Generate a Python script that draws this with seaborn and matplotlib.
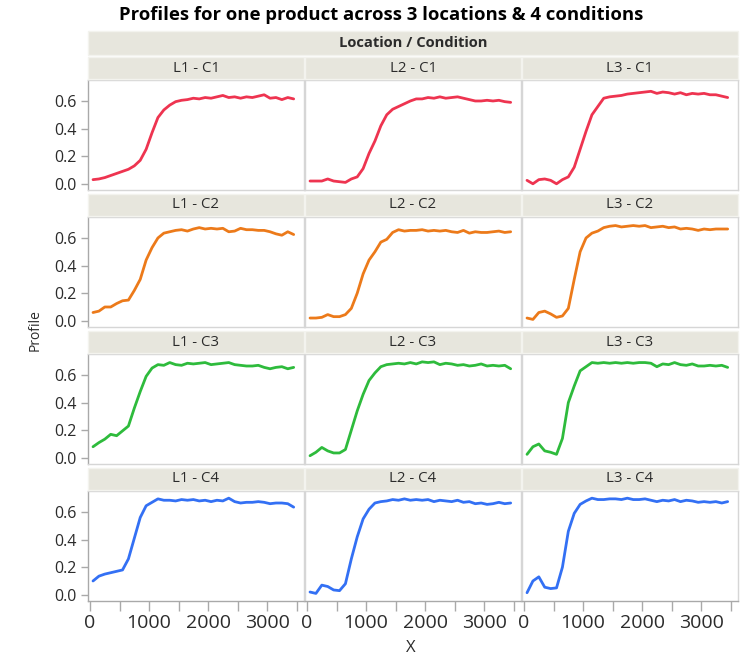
import numpy as np
import pandas as pd
import matplotlib
matplotlib.use("Agg")
import matplotlib.pyplot as plt
import seaborn as sns
from matplotlib.patches import Rectangle
from matplotlib.ticker import MultipleLocator, FixedLocator

sns.set_theme(style="white")
plt.rcParams["font.family"] = ["Open Sans", "DejaVu Sans"]

# ---------------- data ----------------
X = list(range(50, 3500, 100))  # 35 sample positions
locations = ["L1", "L2", "L3"]
conditions = ["C1", "C2", "C3", "C4"]

L1_C1 = [0.03, 0.035, 0.045, 0.06, 0.075, 0.09, 0.105, 0.13, 0.17, 0.25,
         0.37, 0.48, 0.535, 0.57, 0.595, 0.605, 0.61, 0.62, 0.615, 0.625,
         0.62, 0.63, 0.64, 0.625, 0.63, 0.62, 0.63, 0.625, 0.635, 0.645,
         0.62, 0.625, 0.61, 0.625, 0.615]
L2_C1 = [0.02, 0.02, 0.02, 0.035, 0.02, 0.015, 0.01, 0.035, 0.05, 0.11,
         0.22, 0.31, 0.42, 0.50, 0.54, 0.56, 0.58, 0.60, 0.615, 0.615,
         0.625, 0.62, 0.63, 0.62, 0.625, 0.63, 0.62, 0.61, 0.60, 0.60,
         0.605, 0.60, 0.605, 0.595, 0.59]
L3_C1 = [0.025, 0.0, 0.03, 0.035, 0.025, 0.0, 0.03, 0.05, 0.12, 0.25,
         0.38, 0.50, 0.56, 0.62, 0.63, 0.635, 0.64, 0.65, 0.655, 0.66,
         0.665, 0.67, 0.655, 0.665, 0.66, 0.65, 0.66, 0.645, 0.655, 0.65,
         0.655, 0.645, 0.645, 0.635, 0.625]
L1_C2 = [0.06, 0.07, 0.10, 0.10, 0.125, 0.145, 0.15, 0.22, 0.30, 0.44,
         0.53, 0.60, 0.635, 0.645, 0.655, 0.66, 0.65, 0.665, 0.675, 0.665,
         0.67, 0.665, 0.67, 0.645, 0.65, 0.67, 0.66, 0.66, 0.655, 0.655,
         0.645, 0.63, 0.62, 0.645, 0.625]
L2_C2 = [0.02, 0.02, 0.025, 0.045, 0.03, 0.03, 0.045, 0.09, 0.20, 0.34,
         0.44, 0.50, 0.57, 0.59, 0.64, 0.66, 0.65, 0.655, 0.655, 0.66,
         0.65, 0.655, 0.65, 0.655, 0.645, 0.64, 0.655, 0.635, 0.645, 0.64,
         0.64, 0.645, 0.65, 0.64, 0.645]
L3_C2 = [0.02, 0.01, 0.06, 0.07, 0.05, 0.025, 0.035, 0.09, 0.30, 0.50,
         0.60, 0.635, 0.65, 0.675, 0.685, 0.69, 0.68, 0.685, 0.69, 0.685,
         0.69, 0.675, 0.68, 0.685, 0.675, 0.68, 0.665, 0.67, 0.665, 0.655,
         0.665, 0.66, 0.665, 0.665, 0.665]
L1_C3 = [0.08, 0.11, 0.135, 0.17, 0.16, 0.195, 0.23, 0.36, 0.48, 0.59,
         0.65, 0.675, 0.67, 0.69, 0.675, 0.67, 0.685, 0.68, 0.685, 0.69,
         0.675, 0.68, 0.685, 0.69, 0.675, 0.67, 0.665, 0.665, 0.67, 0.655,
         0.645, 0.655, 0.66, 0.645, 0.655]
L2_C3 = [0.015, 0.04, 0.075, 0.05, 0.035, 0.035, 0.06, 0.20, 0.34, 0.46,
         0.56, 0.615, 0.66, 0.675, 0.68, 0.685, 0.68, 0.69, 0.68, 0.695,
         0.69, 0.695, 0.675, 0.685, 0.68, 0.67, 0.675, 0.665, 0.67, 0.68,
         0.665, 0.67, 0.665, 0.67, 0.645]
L3_C3 = [0.025, 0.08, 0.10, 0.05, 0.04, 0.025, 0.14, 0.40, 0.52, 0.63,
         0.66, 0.69, 0.685, 0.69, 0.685, 0.69, 0.685, 0.69, 0.685, 0.69,
         0.69, 0.685, 0.66, 0.68, 0.675, 0.69, 0.675, 0.67, 0.68, 0.665,
         0.665, 0.67, 0.665, 0.67, 0.655]
L1_C4 = [0.10, 0.135, 0.15, 0.16, 0.17, 0.18, 0.26, 0.41, 0.56, 0.645,
         0.67, 0.695, 0.685, 0.685, 0.68, 0.69, 0.685, 0.69, 0.68, 0.685,
         0.675, 0.685, 0.68, 0.70, 0.675, 0.665, 0.67, 0.67, 0.675, 0.67,
         0.66, 0.665, 0.665, 0.66, 0.635]
L2_C4 = [0.02, 0.01, 0.07, 0.06, 0.035, 0.03, 0.08, 0.26, 0.42, 0.55,
         0.62, 0.665, 0.675, 0.68, 0.69, 0.685, 0.695, 0.685, 0.69, 0.685,
         0.69, 0.675, 0.685, 0.68, 0.675, 0.685, 0.67, 0.675, 0.66, 0.665,
         0.655, 0.66, 0.67, 0.66, 0.665]
L3_C4 = [0.015, 0.10, 0.13, 0.055, 0.045, 0.05, 0.20, 0.46, 0.59, 0.655,
         0.68, 0.70, 0.69, 0.69, 0.695, 0.695, 0.69, 0.70, 0.69, 0.69,
         0.695, 0.685, 0.675, 0.685, 0.68, 0.69, 0.675, 0.685, 0.68, 0.67,
         0.675, 0.67, 0.675, 0.665, 0.675]

series = {
    ("L1", "C1"): L1_C1, ("L2", "C1"): L2_C1, ("L3", "C1"): L3_C1,
    ("L1", "C2"): L1_C2, ("L2", "C2"): L2_C2, ("L3", "C2"): L3_C2,
    ("L1", "C3"): L1_C3, ("L2", "C3"): L2_C3, ("L3", "C3"): L3_C3,
    ("L1", "C4"): L1_C4, ("L2", "C4"): L2_C4, ("L3", "C4"): L3_C4,
}
x_ticks = [0, 1000, 2000, 3000]
y_ticks = [0.0, 0.2, 0.4, 0.6]

rows = []
for (loc, cond), vals in series.items():
    for xv, yv in zip(X, vals):
        rows.append({"Location": loc, "Condition": cond, "X": xv, "Profile": yv})
df = pd.DataFrame(rows)

colors = {"C1": "#EE3450", "C2": "#EC7A1A", "C3": "#2EBB3C", "C4": "#3370F4"}

# ---------------- layout ----------------
W, H = 745, 659
fig = plt.figure(figsize=(W / 100, H / 100), dpi=100)
fig.patch.set_facecolor("white")

col_left = [88, 305, 522]
col_w = 216
plot_top0 = 80
plot_h = 110
pitch = 137
strip_h = 22
strip_col = "#E7E6DD"
txt_col = "#2B2B2B"
axis_col = "#A9A9A9"
border_col = "#D6D6D6"


def frect(x0, y0, w, h, **kw):
    r = Rectangle((x0 / W, 1 - (y0 + h) / H), w / W, h / H,
                  transform=fig.transFigure, **kw)
    fig.patches.append(r)


# title
fig.text(381 / W, 1 - 15 / H, "Profiles for one product across 3 locations & 4 conditions",
         ha="center", va="center", fontsize=13.3, fontweight="bold", color="black")
# header bar
frect(88, 31, 650, 24, facecolor=strip_col, edgecolor="#F3F3EE", lw=1)
fig.text((88 + 325) / W, 1 - 43 / H, "Location / Condition", ha="center", va="center",
         fontsize=10.6, fontweight="bold", color=txt_col)

for r, cond in enumerate(conditions):
    top = plot_top0 + pitch * r
    for c, loc in enumerate(locations):
        left = col_left[c]
        # strip
        frect(left, top - strip_h - 1, col_w, strip_h, facecolor=strip_col,
              edgecolor="#F3F3EE", lw=1)
        fig.text((left + col_w / 2) / W, 1 - (top - strip_h / 2 - 1) / H,
                 f"{loc} - {cond}", ha="center", va="center", fontsize=10.8, color=txt_col)

        ax = fig.add_axes([left / W, 1 - (top + plot_h) / H, col_w / W, plot_h / H])
        sub = df[(df["Location"] == loc) & (df["Condition"] == cond)]
        sns.lineplot(data=sub, x="X", y="Profile", color=colors[cond], lw=2.0,
                     ax=ax, legend=False)
        ax.set_xlim(-35, 3625)
        ax.set_ylim(-0.045, 0.752)
        ax.set_xlabel("")
        ax.set_ylabel("")
        ax.set_facecolor("white")
        for s in ax.spines.values():
            s.set_color(border_col)
            s.set_linewidth(1)
        ax.xaxis.set_major_locator(FixedLocator(x_ticks))
        ax.xaxis.set_minor_locator(MultipleLocator(500))
        ax.yaxis.set_major_locator(FixedLocator(y_ticks))
        if c == 0:
            ax.spines["left"].set_color(axis_col)
            ax.tick_params(axis="y", which="major", left=True, length=5, width=1,
                           color=axis_col, labelsize=11.5, labelcolor=txt_col, pad=3)
            ax.set_yticklabels([f"{v:.1f}" for v in y_ticks])
        else:
            ax.tick_params(axis="y", left=False, labelleft=False)
        if r == len(conditions) - 1:
            ax.spines["bottom"].set_color(axis_col)
            ax.tick_params(axis="x", which="both", bottom=True, length=7, width=1,
                           color=axis_col, labelsize=14, labelcolor=txt_col, pad=2)
            ax.set_xticklabels([str(v) for v in x_ticks])
        else:
            ax.tick_params(axis="x", which="both", bottom=False, labelbottom=False)

fig.text(411 / W, 1 - 648 / H, "X", ha="center", va="center", fontsize=12, color=txt_col)
fig.text(35 / W, 1 - 330 / H, "Profile", ha="center", va="center", rotation=90,
         fontsize=10, color=txt_col)

fig.savefig("out.png", dpi=100, facecolor="white")
